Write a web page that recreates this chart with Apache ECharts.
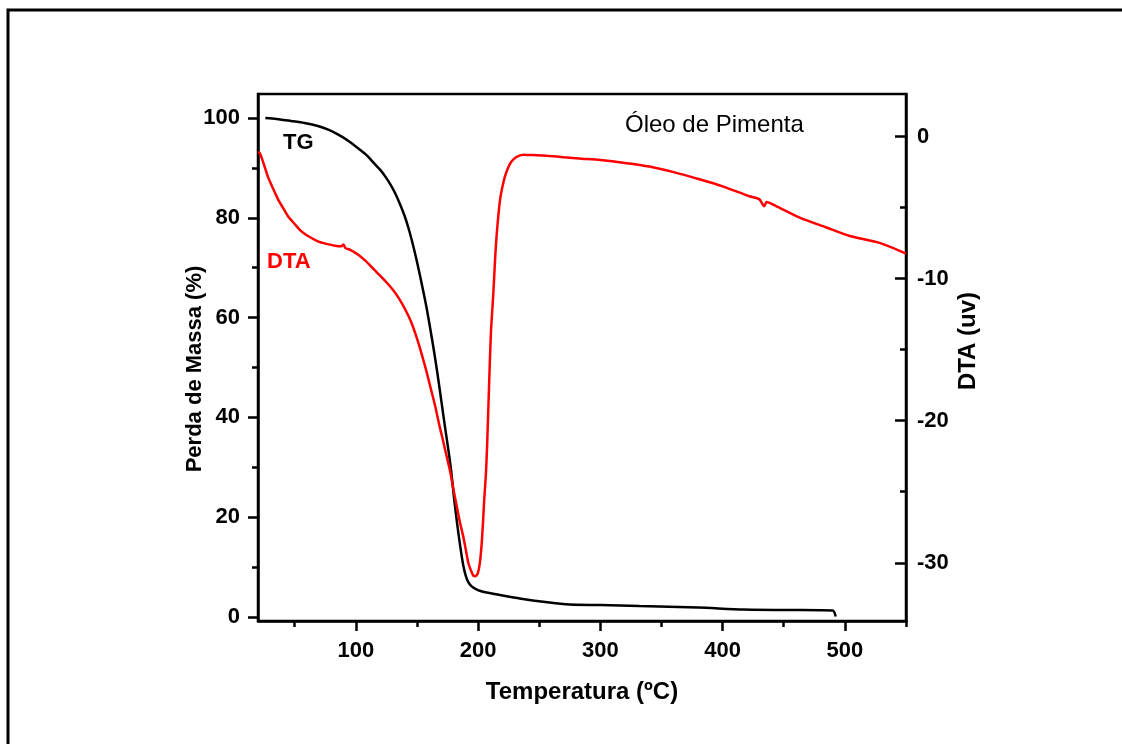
<!DOCTYPE html>
<html>
<head>
<meta charset="utf-8">
<script src="https://cdn.jsdelivr.net/npm/echarts@6/dist/echarts.min.js"></script>
<style>
  html, body { margin: 0; padding: 0; background: #fff; }
  #chart { width: 1122px; height: 744px; }
</style>
</head>
<body>
<div id="chart"></div>
<script>
// TG curve: temperature (ºC) vs mass (%)
var tgTemp = [26, 35, 47, 58, 69, 78, 86, 94, 102, 109, 115, 120, 124, 128, 132, 136, 140, 143, 146, 149,
  152, 155, 158, 161, 164, 167, 170, 173, 176, 178, 180, 182, 184, 186, 188, 190, 192, 194.5, 197.5,
  202, 207, 220, 234, 255, 275, 300, 332, 380, 417, 455, 490, 492.5];
var tgMass = [100, 99.8, 99.4, 99.0, 98.4, 97.6, 96.6, 95.4, 93.9, 92.5, 90.9, 89.6, 88.3, 86.8, 85.0, 82.8, 80.3, 78.0, 75.3, 72.3,
  69.0, 65.5, 61.8, 57.6, 53.2, 48.4, 43.2, 38.0, 33.0, 29.3, 24.6, 20.4, 16.6, 13.2, 10.2, 8.2, 7.0, 6.2, 5.7,
  5.2, 4.9, 4.3, 3.7, 3.0, 2.5, 2.4, 2.2, 1.9, 1.5, 1.4, 1.3, 0.1];

// DTA curve: temperature (ºC) vs signal (uv)
var dtaTemp = [20, 21.5, 25, 28, 32, 36.5, 40, 44.5, 50, 55.5, 62, 69, 76, 83, 88, 90, 91.5, 95, 102, 108,
  115, 120, 125, 130, 135, 140, 145, 150, 154, 158, 161.5, 165, 168, 170.5, 174, 177, 180, 182.5, 185, 188,
  190, 192, 194, 196, 197.5, 199.5, 201, 202, 203, 204, 205, 206.5, 207.5, 209, 210.5, 212.5, 214, 215.5, 218, 220,
  222, 225, 227.5, 231, 237, 245, 256, 270, 285, 300, 320, 340, 360, 381, 400, 422, 430, 434, 436, 445,
  463, 485, 504, 529, 550];
var dtaSignal = [-1.08, -1.15, -2.0, -2.8, -3.6, -4.44, -4.95, -5.6, -6.15, -6.67, -7.05, -7.37, -7.55, -7.68, -7.72, -7.6, -7.85, -7.95, -8.31, -8.75,
  -9.37, -9.8, -10.25, -10.75, -11.35, -12.1, -13.0, -14.2, -15.35, -16.6, -17.8, -19.0, -20.2, -21.1, -22.4, -23.5, -24.9, -26.0, -27.1, -28.2,
  -29.1, -30.0, -30.5, -30.9, -30.95, -30.8, -30.26, -29.6, -28.6, -27.2, -25.6, -23.6, -21.5, -17.5, -13.8, -11.0, -8.5, -6.6, -4.44, -3.5,
  -2.8, -2.1, -1.74, -1.45, -1.27, -1.3, -1.34, -1.45, -1.55, -1.65, -1.85, -2.1, -2.5, -3.0, -3.5, -4.2, -4.4, -4.9, -4.6, -4.95,
  -5.7, -6.4, -7.0, -7.5, -8.24];

// tick values
var xMajor = [100, 200, 300, 400, 500];
var xMinor = [50, 150, 250, 350, 450, 550];
var massMajor = [0, 20, 40, 60, 80, 100];
var massMinor = [10, 30, 50, 70, 90];
var dtaMajor = [0, -10, -20, -30];
var dtaMinor = [-5, -15, -25];

function pairs(xs, ys) {
  var out = [];
  for (var i = 0; i < xs.length; i++) out.push([xs[i], ys[i]]);
  return out;
}

var FONT = '"Liberation Sans", Arial, sans-serif';
var lineStyle = { color: "#000", width: 2.5 };
var labelStyle = { color: "#000", fontSize: 22, fontWeight: "bold", fontFamily: FONT };

var chart = echarts.init(document.getElementById("chart"));
chart.setOption({
  animation: false,
  backgroundColor: "#fff",
  grid: {
    left: 258, top: 94, width: 648, height: 527,
    show: true, borderColor: "#000", borderWidth: 2.5, containLabel: false
  },
  xAxis: [
    {
      type: "value", min: 20, max: 550, position: "bottom",
      name: "Temperatura (ºC)", nameLocation: "middle", nameGap: 59,
      nameTextStyle: { color: "#000", fontSize: 24, fontWeight: "bold", fontFamily: FONT },
      axisLine: { show: true, onZero: false, lineStyle: lineStyle },
      axisTick: { show: true, customValues: xMajor, length: 10, lineStyle: lineStyle },
      axisLabel: Object.assign({ customValues: xMajor, margin: 19 }, labelStyle),
      splitLine: { show: false }
    },
    {
      type: "value", min: 20, max: 550, position: "bottom",
      axisLine: { show: false, onZero: false },
      axisTick: { show: true, customValues: xMinor, length: 6, lineStyle: lineStyle },
      axisLabel: { show: false },
      splitLine: { show: false }
    }
  ],
  yAxis: [
    {
      type: "value", min: -0.8, max: 104.8, position: "left",
      axisLine: { show: true, onZero: false, lineStyle: lineStyle },
      axisTick: { show: true, customValues: massMajor, length: 10, lineStyle: lineStyle },
      axisLabel: Object.assign({ customValues: massMajor, margin: 18 }, labelStyle),
      splitLine: { show: false }
    },
    {
      type: "value", min: -0.8, max: 104.8, position: "left",
      axisLine: { show: false, onZero: false },
      axisTick: { show: true, customValues: massMinor, length: 6, lineStyle: lineStyle },
      axisLabel: { show: false },
      splitLine: { show: false }
    },
    {
      type: "value", min: -34.1, max: 3.0, position: "right",
      axisLine: { show: true, onZero: false, lineStyle: lineStyle },
      axisTick: { show: true, inside: true, customValues: dtaMajor, length: 11, lineStyle: lineStyle },
      axisLabel: Object.assign({ customValues: dtaMajor, margin: 11 }, labelStyle),
      splitLine: { show: false }
    },
    {
      type: "value", min: -34.1, max: 3.0, position: "right",
      axisLine: { show: false, onZero: false },
      axisTick: { show: true, inside: true, customValues: dtaMinor, length: 6, lineStyle: lineStyle },
      axisLabel: { show: false },
      splitLine: { show: false }
    }
  ],
  series: [
    {
      name: "TG", type: "line", xAxisIndex: 0, yAxisIndex: 0,
      data: pairs(tgTemp, tgMass), showSymbol: false, smooth: 0.25,
      lineStyle: { color: "#000", width: 2.5 }
    },
    {
      name: "DTA", type: "line", xAxisIndex: 0, yAxisIndex: 2,
      data: pairs(dtaTemp, dtaSignal), showSymbol: false, smooth: 0.25,
      lineStyle: { color: "#ff0000", width: 2.5 }
    }
  ],
  graphic: [
    {
      type: "polyline", silent: true,
      shape: { points: [[8, 744], [8, 10], [1122, 10]] },
      style: { stroke: "#000", lineWidth: 3, fill: null }
    },
    // axis titles of the two y axes
    {
      type: "text", x: 195, y: 369, rotation: Math.PI / 2,
      style: { text: "Perda de Massa (%)", fill: "#000", font: "bold 22px " + FONT, align: "center", verticalAlign: "middle" }
    },
    {
      type: "text", x: 968, y: 341, rotation: Math.PI / 2,
      style: { text: "DTA (uv)", fill: "#000", font: "bold 24px " + FONT, align: "center", verticalAlign: "middle" }
    },
    // curve labels and title
    {
      type: "text", left: 283, top: 132,
      style: { text: "TG", fill: "#000", font: "bold 22px " + FONT }
    },
    {
      type: "text", left: 267, top: 251,
      style: { text: "DTA", fill: "#ff0000", font: "bold 22px " + FONT }
    },
    {
      type: "text", left: 625, top: 113,
      style: { text: "Óleo de Pimenta", fill: "#000", font: "24px " + FONT }
    }
  ]
});
</script>
</body>
</html>
